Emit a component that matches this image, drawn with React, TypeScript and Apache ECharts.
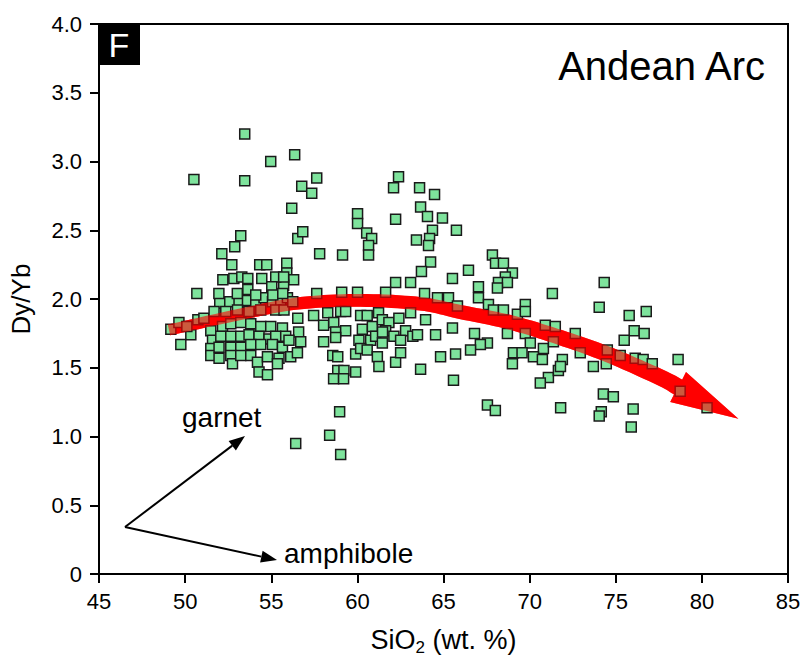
import React, { useEffect, useRef } from "react";
import * as echarts from "echarts";

// SiO2 (wt. %) vs Dy/Yb, grouped by SiO2 range
const maficGroup: [number, number][] = [
  [49.17, 1.78], [49.64, 1.83], [50.33, 1.74], [49.75, 1.67], [50.68, 2.04], [50.74, 1.85], [50.1, 1.8],
  [50.51, 2.87], [51.09, 1.86], [51.49, 1.77], [51.59, 1.7], [51.49, 1.64], [51.49, 1.59],
];

const basalticAndesiteGroup: [number, number][] = [
  [52.01, 1.97], [52.59, 1.98], [53.13, 1.97], [53.62, 1.99], [54.1, 1.98], [54.58, 2.01], [55.07, 1.98],
  [55.55, 1.99], [55.94, 2.01], [51.68, 1.91], [52.36, 1.91], [53.04, 1.92], [53.71, 1.91], [54.39, 1.92],
  [55.26, 1.92], [55.74, 1.92], [52.17, 1.8], [52.65, 1.82], [53.23, 1.83], [53.81, 1.82], [54.39, 1.8],
  [54.97, 1.8], [55.65, 1.79], [52.07, 1.73], [52.65, 1.73], [53.23, 1.73], [53.71, 1.74], [54.29, 1.73],
  [54.87, 1.71], [55.26, 1.73], [55.84, 1.73], [51.97, 1.65], [52.65, 1.65], [53.23, 1.65], [53.81, 1.67],
  [54.39, 1.67], [55.07, 1.67], [55.65, 1.65], [51.97, 1.57], [52.65, 1.59], [52.75, 1.53], [53.23, 1.59],
  [53.81, 1.59], [54.2, 1.54], [54.78, 1.58], [55.45, 1.57], [54.29, 1.47], [54.78, 1.45], [55.36, 1.53],
  [52.13, 2.33], [52.88, 2.38], [53.23, 2.46], [52.71, 2.25], [52.19, 2.14], [52.83, 2.15], [53.29, 2.16],
  [53.64, 2.15], [53.64, 2.07], [51.96, 2.04], [53.03, 2.04], [54.33, 2.25], [54.74, 2.25], [55.9, 2.26],
  [55.9, 2.19], [56.3, 2.14], [55.72, 2.1], [54.45, 2.15], [55.26, 2.16], [55.72, 2.16], [55.03, 2.09],
  [54.1, 2.03], [55.09, 2.03], [55.67, 2.04], [56.25, 1.98], [53.46, 3.2], [53.46, 2.86], [54.97, 3.0],
  [56.36, 3.05], [56.19, 2.66], [56.54, 2.44], [56.83, 2.49], [56.42, 0.95],
];

const andesiteGroup: [number, number][] = [
  [56.77, 2.82], [57.64, 2.88], [57.35, 2.77], [57.81, 2.33], [59.14, 2.32], [57.64, 2.04], [59.09, 2.05],
  [60.01, 2.05], [60.01, 2.62], [60.01, 2.55], [60.54, 2.48], [60.83, 2.44], [60.65, 2.39], [60.65, 2.32],
  [56.54, 1.86], [57.46, 1.88], [58.28, 1.9], [59.03, 1.91], [59.32, 1.91], [60.19, 1.88], [60.57, 1.88],
  [56.59, 1.76], [58.04, 1.81], [58.63, 1.83], [58.74, 1.76], [59.32, 1.77], [60.29, 1.78], [60.87, 1.8],
  [56.71, 1.69], [58.04, 1.69], [58.74, 1.72], [56.03, 1.7], [60.09, 1.7], [60.77, 1.7], [58.57, 1.59],
  [58.86, 1.58], [59.9, 1.6], [60.19, 1.64], [60.57, 1.63], [56.13, 1.58], [56.52, 1.61], [58.86, 1.48],
  [59.9, 1.47], [59.22, 1.48], [58.62, 1.42], [59.2, 1.42], [58.97, 1.18], [58.39, 1.01], [59.03, 0.87],
];

const daciteGroup: [number, number][] = [
  [62.39, 2.89], [62.1, 2.81], [63.61, 2.81], [64.48, 2.76], [63.67, 2.67], [64.07, 2.6], [64.94, 2.59],
  [62.22, 2.58], [64.36, 2.5], [63.43, 2.43], [64.19, 2.44], [64.13, 2.39], [64.25, 2.27], [63.72, 2.2],
  [63.09, 2.12], [62.22, 2.12], [61.64, 2.05], [63.9, 2.04], [64.65, 2.01], [61.23, 1.9], [61.45, 1.85],
  [61.83, 1.83], [62.41, 1.86], [63.09, 1.9], [63.96, 1.85], [61.64, 1.77], [62.12, 1.73], [62.8, 1.77],
  [61.06, 1.73], [61.45, 1.68], [62.51, 1.7], [63.22, 1.73], [63.49, 1.74], [64.54, 1.74], [61.46, 1.76],
  [61.16, 1.58], [62.22, 1.54], [62.51, 1.61], [61.25, 1.51], [64.83, 1.58], [63.67, 1.49],
];

const rhyodaciteGroup: [number, number][] = [
  [65.75, 2.5], [66.45, 2.21], [65.52, 2.15], [67.03, 2.09], [67.03, 2.01], [65.29, 2.01], [65.81, 1.95],
  [67.84, 2.32], [68.02, 2.26], [68.48, 2.26], [69.0, 2.19], [68.59, 2.16], [68.19, 2.12], [68.71, 2.12],
  [68.13, 2.08], [71.32, 2.04], [67.61, 1.96], [67.9, 1.92], [68.48, 1.92], [69.29, 1.89], [69.75, 1.96],
  [69.75, 1.91], [65.52, 1.79], [66.8, 1.75], [67.55, 1.68], [67.14, 1.67], [68.71, 1.75], [69.75, 1.75],
  [70.04, 1.68], [70.8, 1.64], [70.91, 1.81], [71.49, 1.8], [71.38, 1.69], [65.7, 1.6], [66.57, 1.63],
  [69.06, 1.61], [69.56, 1.61], [69.0, 1.53], [70.22, 1.58], [70.74, 1.56], [71.09, 1.43], [70.62, 1.39],
  [71.67, 1.48], [71.9, 1.56], [71.79, 1.51], [65.58, 1.41], [67.55, 1.23], [68.01, 1.19], [71.8, 1.21],
];

const rhyoliteGroup: [number, number][] = [
  [72.65, 1.75], [72.94, 1.61], [74.33, 2.12], [74.04, 1.94], [75.78, 1.88], [76.77, 1.91], [76.07, 1.77],
  [76.65, 1.75], [75.49, 1.7], [73.7, 1.51], [74.45, 1.53], [74.51, 1.63], [75.26, 1.59], [76.13, 1.57],
  [76.59, 1.56], [77.12, 1.53], [78.62, 1.56], [78.74, 1.33], [74.28, 1.31], [74.86, 1.29], [74.16, 1.18],
  [74.04, 1.15], [76.01, 1.2], [75.9, 1.07], [80.3, 1.21],
];

// Trend arrow (centre line in data units, last point = base of head) and its tip
const trendPath: [number, number][] = [
  [49.06, 1.775], [53.81, 1.905], [56.71, 1.97], [60.19, 1.99], [63.67, 1.965], [66.0, 1.905],
  [68.88, 1.83], [71.78, 1.72], [74.68, 1.59], [77.58, 1.43], [78.62, 1.36],
];
const trendTip: [number, number] = [82.12, 1.13];

const FONT = "'Liberation Sans', Arial, Helvetica, sans-serif";

function arrowPolygon(api: any): number[][] {
  const pts: number[][] = trendPath.map((p) => api.coord(p));
  const n = pts.length;
  const dense: number[][] = [];
  for (let i = 0; i < n - 1; i++) {
    const p0 = pts[Math.max(0, i - 1)], p1 = pts[i], p2 = pts[i + 1], p3 = pts[Math.min(n - 1, i + 2)];
    for (let s = 0; s < 10; s++) {
      const t = s / 10, t2 = t * t, t3 = t2 * t;
      const f = (a: number, b: number, c: number, d: number) =>
        0.5 * (2 * b + (-a + c) * t + (2 * a - 5 * b + 4 * c - d) * t2 + (-a + 3 * b - 3 * c + d) * t3);
      dense.push([f(p0[0], p1[0], p2[0], p3[0]), f(p0[1], p1[1], p2[1], p3[1])]);
    }
  }
  dense.push(pts[n - 1]);
  const m = dense.length;
  const left: number[][] = [];
  const right: number[][] = [];
  for (let i = 0; i < m; i++) {
    const a = dense[Math.max(0, i - 1)], b = dense[Math.min(m - 1, i + 1)];
    let tx = b[0] - a[0], ty = b[1] - a[1];
    const L = Math.hypot(tx, ty) || 1;
    tx /= L; ty /= L;
    const w = (11 + 6 * (i / (m - 1))) / 2;
    left.push([dense[i][0] - ty * w, dense[i][1] + tx * w]);
    right.push([dense[i][0] + ty * w, dense[i][1] - tx * w]);
  }
  const base = dense[m - 1];
  const tip = api.coord(trendTip);
  let dx = tip[0] - base[0], dy = tip[1] - base[1];
  const DL = Math.hypot(dx, dy) || 1;
  dx /= DL; dy /= DL;
  const hw = 17;
  const headL = [base[0] - dy * hw, base[1] + dx * hw];
  const headR = [base[0] + dy * hw, base[1] - dx * hw];
  return [...left, headL, tip, headR, ...right.reverse()];
}

function blackArrow(from: number[], to: number[]) {
  let dx = to[0] - from[0], dy = to[1] - from[1];
  const L = Math.hypot(dx, dy);
  dx /= L; dy /= L;
  const hl = 16, hw = 6;
  const bx = to[0] - dx * hl, by = to[1] - dy * hl;
  return [
    { type: "line", z: 100, shape: { x1: from[0], y1: from[1], x2: bx, y2: by }, style: { stroke: "#000", lineWidth: 2 } },
    {
      type: "polygon", z: 100,
      shape: { points: [[to[0], to[1]], [bx - dy * hw, by + dx * hw], [bx + dy * hw, by - dx * hw]] },
      style: { fill: "#000" },
    },
  ];
}

export default function App() {
  const ref = useRef<HTMLDivElement>(null);
  useEffect(() => {
    const chart = echarts.init(ref.current!, null, { renderer: "svg" });
    const allPoints = [
      ...maficGroup, ...basalticAndesiteGroup, ...andesiteGroup,
      ...daciteGroup, ...rhyodaciteGroup, ...rhyoliteGroup,
    ];
    const origin = [125, 527];
    chart.setOption({
      animation: false,
      backgroundColor: "#fff",
      textStyle: { fontFamily: FONT },
      grid: { left: 98, top: 24, right: 16, bottom: 88, show: true, borderColor: "#000", borderWidth: 2 },
      xAxis: {
        type: "value", min: 45, max: 85, interval: 5,
        name: "SiO{sub|2} (wt. %)", nameLocation: "middle", nameGap: 50,
        nameTextStyle: {
          fontSize: 27, color: "#000", fontFamily: FONT, lineHeight: 32,
          rich: { sub: { fontSize: 17, verticalAlign: "bottom", lineHeight: 14, fontFamily: FONT } },
        },
        axisLine: { show: true, lineStyle: { color: "#000", width: 2 } },
        axisTick: { show: true, length: 9, lineStyle: { color: "#000", width: 2 } },
        splitLine: { show: false },
        axisLabel: { fontSize: 22, color: "#000", margin: 16, fontFamily: FONT },
      },
      yAxis: {
        type: "value", min: 0, max: 4, interval: 0.5,
        name: "Dy/Yb", nameLocation: "middle", nameGap: 65, nameRotate: 90,
        nameTextStyle: { fontSize: 26, color: "#000", fontFamily: FONT },
        axisLine: { show: true, lineStyle: { color: "#000", width: 2 } },
        axisTick: { show: true, length: 9, lineStyle: { color: "#000", width: 2 } },
        splitLine: { show: false },
        axisLabel: {
          fontSize: 22, color: "#000", margin: 17, fontFamily: FONT,
          formatter: (v: number) => (v === 0 ? "0" : v.toFixed(1)),
        },
      },
      series: [
        {
          type: "custom", z: 1, data: [trendPath[0]], encode: { x: 0, y: 1 }, silent: true,
          renderItem: (_p: any, api: any) => ({
            type: "polygon", shape: { points: arrowPolygon(api) }, style: { fill: "#ff0000" },
          }),
        },
        {
          type: "scatter", z: 2, data: allPoints, symbol: "rect", symbolSize: 10,
          itemStyle: { color: "#7ee39c", borderColor: "#1a1a1a", borderWidth: 1.5, opacity: 1 },
        },
        {
          type: "custom", z: 3, data: [trendPath[0]], encode: { x: 0, y: 1 }, silent: true,
          renderItem: (_p: any, api: any) => ({
            type: "polygon", shape: { points: arrowPolygon(api) }, style: { fill: "#ff0000", opacity: 0.6 },
          }),
        },
      ],
      graphic: [
        { type: "rect", z: 100, shape: { x: 98, y: 24, width: 42, height: 41 }, style: { fill: "#000" } },
        {
          type: "text", z: 101, x: 119, y: 45,
          style: { text: "F", fill: "#fff", fontSize: 34, fontFamily: FONT, align: "center", verticalAlign: "middle" },
        },
        {
          type: "text", z: 100, x: 765, y: 66,
          style: { text: "Andean Arc", fill: "#000", fontSize: 40, fontFamily: FONT, align: "right", verticalAlign: "middle" },
        },
        {
          type: "text", z: 100, x: 182, y: 417,
          style: { text: "garnet", fill: "#000", fontSize: 28, fontFamily: FONT, align: "left", verticalAlign: "middle" },
        },
        {
          type: "text", z: 100, x: 284, y: 553,
          style: { text: "amphibole", fill: "#000", fontSize: 28, fontFamily: FONT, align: "left", verticalAlign: "middle" },
        },
        ...blackArrow(origin, [245, 436]),
        ...blackArrow(origin, [277, 560]),
      ],
    });
    return () => chart.dispose();
  }, []);
  return <div ref={ref} style={{ position: "fixed", left: 0, top: 0, width: 804, height: 662 }} />;
}
